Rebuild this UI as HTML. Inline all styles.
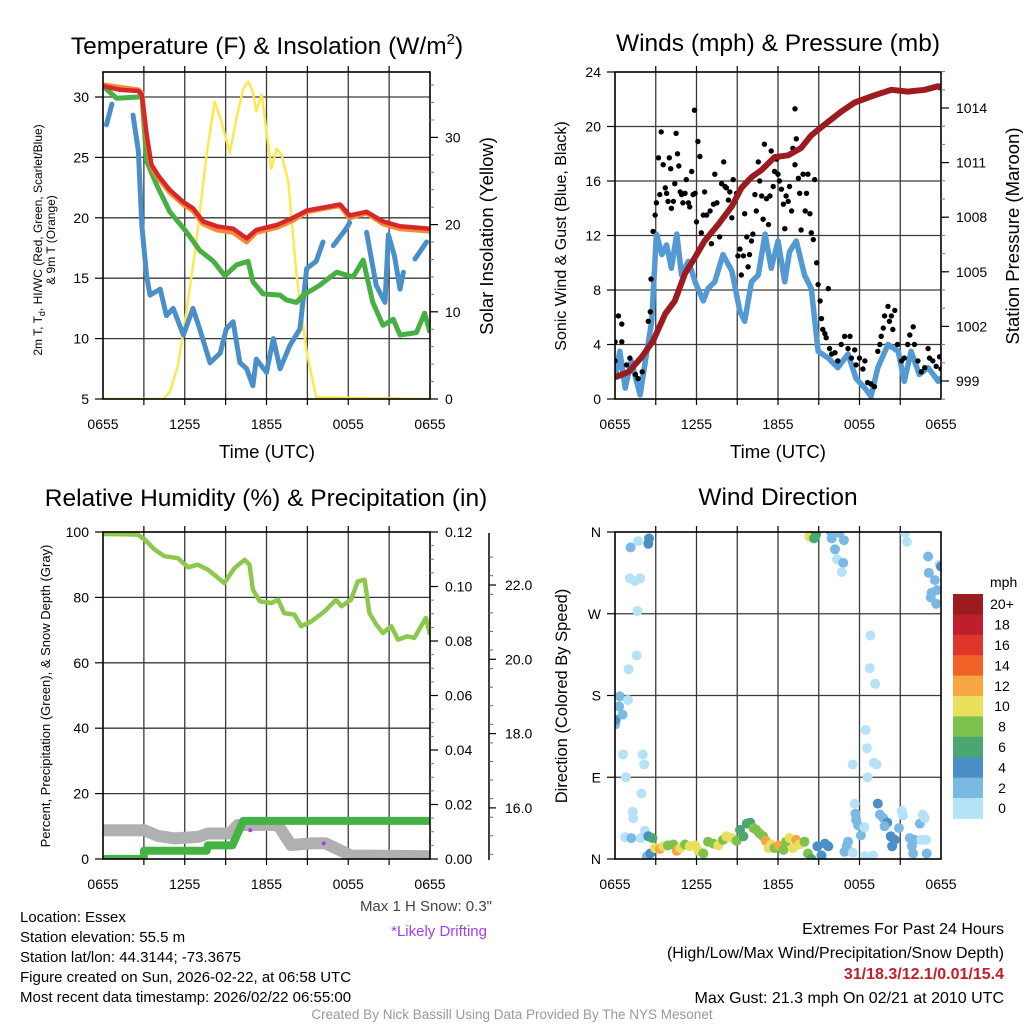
<!DOCTYPE html>
<html><head><meta charset="utf-8"><style>
html,body{margin:0;padding:0;background:#fff;}
svg{display:block;font-family:"Liberation Sans",Arial,sans-serif;}
</style></head><body>
<svg id="chart" width="1024" height="1024" viewBox="0 0 1024 1024" xmlns="http://www.w3.org/2000/svg">
<defs>
<clipPath id="cTL"><rect x="103" y="72" width="327" height="327"/></clipPath>
<clipPath id="cTR"><rect x="615" y="72" width="326" height="327"/></clipPath>
<clipPath id="cBL"><rect x="103" y="532" width="327" height="327"/></clipPath>
<clipPath id="cBR"><rect x="615" y="532" width="326" height="327"/></clipPath>
</defs>
<text x="267" y="54" font-size="24.5" text-anchor="middle">Temperature (F) &amp; Insolation (W/m<tspan font-size="15" dy="-10">2</tspan><tspan dy="10">)</tspan></text>
<text x="778" y="51" font-size="24.5" text-anchor="middle">Winds (mph) &amp; Pressure (mb)</text>
<text x="266" y="506" font-size="24.5" text-anchor="middle">Relative Humidity (%) &amp; Precipitation (in)</text>
<text x="778" y="505" font-size="24.5" text-anchor="middle">Wind Direction</text>

<text x="267" y="458" font-size="18.5" text-anchor="middle">Time (UTC)</text>
<text x="778" y="458" font-size="18.5" text-anchor="middle">Time (UTC)</text>

<text font-size="12" text-anchor="middle" transform="translate(42,240) rotate(-90)">2m T, T<tspan font-size="9" dy="3">d</tspan><tspan dy="-3">, HI/WC (Red, Green, Scarlet/Blue)</tspan></text>
<text font-size="12" text-anchor="middle" transform="translate(55,240) rotate(-90)">&amp; 9m T (Orange)</text>
<text font-size="18.5" text-anchor="middle" transform="translate(493,236) rotate(-90)">Solar Insolation (Yellow)</text>
<text font-size="16" text-anchor="middle" transform="translate(566,236) rotate(-90)">Sonic Wind &amp; Gust (Blue, Black)</text>
<text font-size="18.5" text-anchor="middle" transform="translate(1019,236) rotate(-90)">Station Pressure (Maroon)</text>
<text font-size="13" text-anchor="middle" transform="translate(50,696) rotate(-90)">Percent, Precipitation (Green), &amp; Snow Depth (Gray)</text>
<text font-size="16.5" text-anchor="middle" transform="translate(567,696) rotate(-90)">Direction (Colored By Speed)</text>

<g font-size="15">
<text x="20" y="922">Location: Essex</text>
<text x="20" y="942">Station elevation: 55.5 m</text>
<text x="20" y="962">Station lat/lon: 44.3144; -73.3675</text>
<text x="20" y="982">Figure created on Sun, 2026-02-22, at 06:58 UTC</text>
<text x="20" y="1002">Most recent data timestamp: 2026/02/22 06:55:00</text>
</g>
<text x="492" y="911" font-size="15" fill="#444" text-anchor="end">Max 1 H Snow: 0.3"</text>
<text x="487" y="936" font-size="15" fill="#a040f0" text-anchor="end">*Likely Drifting</text>
<text x="512" y="1019" font-size="13.5" fill="#999" text-anchor="middle">Created By Nick Bassill Using Data Provided By The NYS Mesonet</text>
<g font-size="16" text-anchor="end">
<text x="1004" y="934">Extremes For Past 24 Hours</text>
<text x="1004" y="958">(High/Low/Max Wind/Precipitation/Snow Depth)</text>
<text x="1004" y="979" fill="#c0202a" font-weight="bold">31/18.3/12.1/0.01/15.4</text>
<text x="1004" y="1003">Max Gust: 21.3 mph On 02/21 at 2010 UTC</text>
</g>
</svg>
<script>
// ===== Data =====
const timeLabels = ["0655","1255","1855","0055","0655"];
const timeLabelHours = [0,6,12,18,24];
// Temperature panel
const redH = [0,1.25,2.6,2.85,3.2,3.55,4.05,4.9,5.9,6.6,7.35,8.35,9.55,10.55,11.25,12.75,13.95,14.95,16.4,17.4,18.1,19.35,20.55,21.8,24];
const redT = [30.9,30.6,30.5,30.2,26.9,24.4,23.5,22.3,21.3,20.8,19.7,19.3,19.1,18.3,19.0,19.4,20.0,20.6,20.9,21.1,20.2,20.5,19.7,19.3,19.1];
const orangeT = [31.0,30.8,30.6,30.3,26.7,24.2,23.3,22.1,21.1,20.6,19.5,19.0,18.8,18.0,18.8,19.2,19.8,20.5,20.8,21.0,20.0,20.4,19.5,19.1,18.9];
const greenH = [0,1.0,2.6,2.85,3.2,3.95,4.9,6.15,7.1,8.1,8.95,9.8,10.65,11.0,11.75,13.0,13.45,14.2,14.7,15.9,17.15,18.35,19.1,19.8,20.55,21.3,21.8,23.0,23.6,24];
const greenT = [30.9,29.9,30.0,30.3,24.7,22.7,20.5,18.8,17.3,16.4,15.2,16.1,16.4,14.7,13.7,13.6,13.2,13.0,13.6,14.4,15.5,15.1,16.5,13.0,11.1,11.6,10.3,10.5,12.1,10.5];
const blueH = [0.25,0.65,null,2.2,2.6,2.85,3.2,3.45,4.2,4.65,5.15,5.9,6.6,7.1,7.85,8.6,9.05,9.55,10.05,10.55,11.0,11.25,12.0,12.5,13.0,13.7,14.45,14.95,15.65,16.15,null,16.9,17.85,18.1,null,19.35,20.05,20.7,20.95,21.4,21.8,22.05,null,22.9,23.75];
const blueT = [27.7,29.4,null,28.5,25.5,19.4,15.2,13.6,14.1,11.9,12.5,10.3,12.5,10.8,8.0,8.8,10.8,11.4,8.0,7.5,6.1,8.3,7.2,10.0,7.5,9.4,10.8,15.8,16.4,18.0,null,17.7,19.1,19.6,null,18.8,14.4,13.0,18.6,16.8,14.1,15.5,null,16.6,18.0];
const solarH = [0,4.45,4.9,5.5,6.15,6.85,7.6,8.2,8.7,9.3,9.8,10.3,10.65,11.0,11.25,11.65,12.0,12.35,12.75,13.1,13.6,14.2,14.95,15.65,24];
const solarV = [0,0,0.8,3.8,10.3,18.0,28.0,34.1,31.8,28.2,32.2,35.6,36.4,35.2,33.0,34.9,30.7,26.4,28.7,28.0,24.9,14.2,5.4,0.2,0];
// Wind panel
const presH = [0,1.0,1.95,2.8,3.7,4.4,5.15,5.9,6.6,7.6,8.6,9.3,10.05,10.8,11.75,12.75,13.7,14.45,15.45,16.65,17.65,19.1,20.35,21.55,22.8,23.8,24];
const presV = [999.2,999.5,1000.3,1001.2,1002.7,1003.4,1004.9,1005.8,1006.7,1007.6,1008.6,1009.6,1010.2,1010.6,1011.3,1011.4,1011.8,1012.5,1013.1,1013.8,1014.3,1014.7,1015.0,1014.9,1015.0,1015.2,1015.1];
const windH = [0,0.35,0.75,1.2,1.85,2.35,2.7,3.05,3.45,3.8,4.15,4.55,4.9,5.4,5.9,6.5,6.85,7.35,7.95,8.6,9.2,9.55,10.05,10.55,11.05,11.5,12.0,12.5,12.85,13.35,13.95,14.45,14.95,15.7,16.4,17.15,17.75,18.4,18.85,19.35,20.1,20.85,21.3,21.8,22.4,23.05,23.8,24];
const windV = [1.5,3.5,0.8,2.8,0.3,3.5,5.7,12.1,10.6,11.3,9.6,12.1,9.1,10.1,8.6,7.2,8.1,8.6,10.6,9.4,6.4,5.7,8.6,9.1,12.1,9.6,11.6,8.6,10.8,11.6,9.1,8.1,3.5,3.0,2.3,3.3,1.5,0.8,0.2,2.3,4.0,3.5,1.3,3.5,1.8,2.3,1.3,1.6];
const gustH = [0,0.25,0.5,0.5,0,0.85,1.1,1.5,1.7,2.0,2.45,2.6,2.65,2.8,2.95,3.05,3.2,3.3,3.4,3.55,3.7,3.8,3.9,4.0,4.1,4.15,4.3,4.4,4.5,4.6,4.7,4.8,4.9,5.0,5.15,5.25,5.4,5.5,5.65,5.75,5.85,5.9,6.0,6.1,6.25,6.35,6.5,6.6,6.75,7.0,7.1,7.25,7.35,7.5,7.7,7.85,8.0,8.1,8.2,8.35,8.45,8.6,8.7,8.95,9.05,9.2,9.3,9.45,9.55,9.7,9.8,9.9,10.05,10.15,10.3,10.4,10.55,10.65,10.8,10.9,11.0,11.15,11.3,11.4,11.5,11.65,11.75,11.9,12.0,12.1,12.25,12.4,12.5,12.6,12.75,12.85,13.0,13.1,13.25,13.25,13.35,13.5,13.6,13.7,13.85,14.0,14.1,14.2,14.35,14.45,14.6,14.7,14.85,14.95,15.1,15.2,15.3,15.45,15.55,15.7,15.8,15.95,16.2,16.4,16.65,16.9,17.15,17.3,17.4,17.65,17.75,18.0,18.25,18.4,18.6,18.85,19.1,19.35,19.5,19.6,19.75,19.85,20.1,20.2,20.35,20.45,20.6,20.8,21.1,21.3,21.55,21.7,21.95,22.05,22.3,22.55,22.8,23.05,23.15,23.4,23.65,23.9,24];
const gustV = [4.2,6.1,5.5,4.2,2.8,2.5,3.0,1.8,1.5,2.0,5.7,6.4,8.8,12.3,13.5,14.4,17.7,15.0,19.6,17.2,15.5,15.1,14.5,17.7,16.9,14.0,14.5,15.8,19.5,18.0,17.1,15.2,15.0,14.4,15.1,16.1,14.4,14.1,16.7,15.0,21.2,15.1,13.0,18.9,17.8,12.2,13.5,15.2,13.5,13.8,11.4,14.3,16.5,14.4,11.9,15.8,17.4,15.6,15.5,14.6,15.2,13.3,16.1,15.1,10.5,11.0,9.1,10.5,13.6,11.9,9.7,10.6,11.6,12.1,15.0,13.8,17.4,16.0,14.9,13.2,18.7,14.7,12.8,14.9,18.2,15.6,16.7,17.6,16.5,16.0,15.4,14.3,12.5,14.9,14.5,15.6,13.8,18.4,17.2,21.3,19.1,16.2,15.1,12.4,16.5,13.8,15.1,16.5,13.6,12.2,11.7,16.1,10.0,8.4,7.2,5.9,5.1,4.8,4.5,8.1,3.7,3.3,3.4,2.8,4.0,4.6,3.7,4.6,3.0,3.6,2.5,3.0,2.2,2.8,1.2,1.1,0.9,3.5,4.0,4.6,5.2,6.1,6.8,5.7,6.1,5.1,6.5,4.0,2.8,3.0,4.0,4.7,5.3,4.0,2.8,2.0,2.3,3.7,3.0,2.8,2.4,3.1,2.2];
// RH panel
const rhH = [0,2.55,3.05,3.8,4.5,5.5,6.25,6.95,7.7,8.9,9.65,10.4,10.75,11.0,11.5,12.35,12.85,13.3,14.05,14.55,15.3,16.25,17.1,17.5,18.2,18.7,19.2,19.55,20.05,20.55,21.15,21.65,22.35,22.85,23.7,24];
const rhV = [99.4,99.2,97.7,94.6,92.6,92.0,89.2,90.0,88.5,84.4,89.0,91.5,90.0,82.4,78.8,78.3,79.3,75.2,74.7,71.2,72.7,75.7,79.3,77.3,79.3,84.9,85.4,75.2,71.7,69.1,71.2,67.1,68.1,67.6,73.7,68.6];
const precipH = [0,3.0,3.0,7.6,7.7,9.5,10.3,24];
const precipV = [0,0,0.003,0.003,0.005,0.005,0.014,0.014];
const snowH = [0,3.05,4.0,5.25,7.0,7.7,9.3,9.9,12.85,13.8,15.5,16.3,18.2,24];
const snowV = [15.4,15.4,15.25,15.18,15.22,15.31,15.31,15.54,15.54,15.0,15.05,15.05,14.72,14.7];
const driftH = [10.8,16.2];
const driftV = [15.4,15.05];
// Direction panel
const dirH = [0.0,0.05,0.3,0.55,0.35,0.95,0.6,0.8,1.0,1.6,1.65,1.1,1.45,1.85,1.15,1.7,2.5,2.45,1.95,1.3,1.35,2.05,2.15,0.75,1.2,1.9,2.2,2.45,2.75,2.35,2.6,
2.95,3.3,3.55,3.9,4.3,4.55,4.8,5.15,5.5,5.9,6.15,6.5,6.85,7.25,7.6,7.95,8.2,8.6,8.95,9.2,9.45,9.7,9.95,10.2,10.4,10.65,10.9,11.1,11.3,11.5,11.75,12.05,12.4,12.6,12.85,13.1,13.35,13.6,13.95,14.2,14.45,
14.9,15.2,15.45,15.7,17.05,17.15,16.9,17.5,18.4,19.0,18.9,17.65,17.7,17.75,17.9,18.1,18.35,17.5,18.45,18.55,18.6,19.05,19.25,18.75,19.15,18.8,
19.35,19.5,19.75,20.05,19.85,20.3,20.6,20.4,20.9,21.1,21.2,21.7,21.85,21.95,22.05,22.45,22.65,22.8,22.55,22.9,22.95,
14.3,14.65,14.8,15.9,16.5,16.85,15.95,16.2,16.35,16.8,16.7,21.35,21.5,23.05,23.1,23.55,23.9,24,23.3,23.7,23.25,23.65];
const dirDeg = [148,153,168,159,179,175,115,90,209,224,273,309,306,309,343,350,353,347,72,52,45,115,104,24,23,23,31,25,23,3,6,
12,11,14,15,16,9,12,16,14,15,9,6,19,17,15,21,25,23,20,32,25,39,40,34,32,28,25,20,12,16,12,15,10,19,23,12,21,16,19,6,0,
14,4,17,14,14,19,8,7,3,4,0,61,50,43,37,26,35,104,142,122,90,106,104,210,193,246,
61,49,45,40,36,25,21,14,34,53,48,23,14,6,21,39,49,45,21,21,6,
355,353,357,360,359,351,353,341,330,326,316,359,349,333,315,307,324,322,293,296,288,281];
const dirSpeed = [3,4,3,3,3,1,1,1,1,1,1,1,1,1,3,1,4,4,1,1,1,1,1,1,3,1,1,4,6,3,4,
10,12,10,8,8,12,10,8,10,10,10,8,8,8,10,8,10,10,8,6,6,6,6,8,8,8,8,12,10,10,8,12,8,8,10,10,12,10,8,8,6,
4,4,4,4,2,2,2,1,1,1,1,1,2,2,2,2,1,1,1,1,1,1,1,1,1,1,
4,2,2,4,3,4,4,4,3,1,1,2,2,2,2,2,1,1,1,1,2,
10,6,7,2,2,2,2,2,1,2,1,1,1,3,3,3,1,4,3,3,3,3];
const speedColors = ["#b5e2f7","#7bb9e5","#4a8fc6","#4aa76f","#7dc24c","#e8e05c","#f7a644","#f16229","#e0352b","#bf1e2d","#9b1b1e"];
const speedLabels = ["0","2","4","6","8","10","12","14","16","18","20+"];
const tempTicks = [5,10,15,20,25,30];
const solarTicks = [0,10,20,30];
const windTicks = [0,4,8,12,16,20,24];
const presTicks = [999,1002,1005,1008,1011,1014];
const rhTicks = [0,20,40,60,80,100];
const precipTicks = [0,0.02,0.04,0.06,0.08,0.10,0.12];
const snowTicks = [16,18,20,22];
const dirTicks = [0,90,180,270,360];
const dirLabels = ["N","E","S","W","N"];

// ===== Scales =====
const xL = h => 103 + h*327/24;
const xR = h => 615 + h*326/24;
const yTemp = v => 399 - (v-5)*12.08;
const ySolar = v => 399 - v*8.72;
const yWind = v => 399 - v*13.625;
const yPres = p => 381 - (p-999)*18.2;
const yRH = v => 859 - v*3.27;
const yPrecip = v => 859 - v/0.12*327;
const ySnow = v => 585 + (22-v)*37.15;
const yDir = d => 859 - d*327/360;

const svg = document.getElementById('chart');
const NS = 'http://www.w3.org/2000/svg';
function mk(tag, attrs, parent, name, inter) {
  const el = document.createElementNS(NS, tag);
  for (const k in attrs) el.setAttribute(k, attrs[k]);
  
  
  (parent || svg).appendChild(el);
  return el;
}
function pathFrom(hs, vs, xf, yf) {
  let d = '', pen = false;
  for (let i = 0; i < hs.length; i++) {
    if (hs[i] === null || vs[i] === null) { pen = false; continue; }
    d += (pen ? 'L' : 'M') + xf(hs[i]).toFixed(1) + ',' + yf(vs[i]).toFixed(1);
    pen = true;
  }
  return d;
}

function panel(x0, y0, w, h, key, vgridHours, xf, hgridYs) {
  const g = mk('g', {}, svg, key + '-panel', false);
  vgridHours.forEach(hh => {
    const x = xf(hh);
    mk('line', {x1:x, y1:y0, x2:x, y2:y0+h, stroke:'#3a3a3a', 'stroke-width':1.3}, g, key + '-vgrid', false);
    mk('line', {x1:x, y1:y0-6, x2:x, y2:y0, stroke:'#000', 'stroke-width':1.2}, g, key + '-top-tick', false);
    mk('line', {x1:x, y1:y0+h, x2:x, y2:y0+h+6, stroke:'#000', 'stroke-width':1.2}, g, key + '-bottom-tick', false);
  });
  hgridYs.forEach(y => {
    mk('line', {x1:x0, y1:y, x2:x0+w, y2:y, stroke:'#3a3a3a', 'stroke-width':1.3}, g, key + '-hgrid', false);
  });
  return g;
}
function frame(x0, y0, w, h, key) {
  mk('rect', {x:x0, y:y0, width:w, height:h, fill:'none', stroke:'#000', 'stroke-width':1.6}, svg, key + '-frame', false);
}
function xLabels(xf, y) {
  timeLabelHours.forEach((hh, i) => {
    const t = mk('text', {x:xf(hh), y:y, 'font-size':14, 'text-anchor':'middle'}, svg, 'x-tick-label', false);
    t.textContent = timeLabels[i];
  });
}
function yLeft(ticks, yf, x0, labels, fmt) {
  ticks.forEach((v, i) => {
    const y = yf(v);
    mk('line', {x1:x0-8, y1:y, x2:x0, y2:y, stroke:'#000', 'stroke-width':1.2}, svg, 'y-tick', false);
    const t = mk('text', {x:x0-14, y:y+5, 'font-size':14, 'text-anchor':'end'}, svg, 'y-tick-label', false);
    t.textContent = labels ? labels[i] : (fmt ? fmt(v) : v);
  });
}
function yRight(ticks, yf, x1, fmt, minorStep, lo, hi) {
  if (minorStep) {
    for (let v = lo; v <= hi + 1e-9; v += minorStep) {
      const y = yf(v);
      mk('line', {x1:x1, y1:y, x2:x1+4, y2:y, stroke:'#777', 'stroke-width':1}, svg, 'y-minor-tick', false);
    }
  }
  ticks.forEach(v => {
    const y = yf(v);
    mk('line', {x1:x1, y1:y, x2:x1+8, y2:y, stroke:'#000', 'stroke-width':1.2}, svg, 'y-right-tick', false);
    const t = mk('text', {x:x1+15, y:y+5, 'font-size':14, 'text-anchor':'start'}, svg, 'y-right-tick-label', false);
    t.textContent = fmt ? fmt(v) : v;
  });
}
const gridHours = [3,6,9,12,15,18,21];

// ===== Top-left: temperature =====
panel(103,72,327,327,'temp', gridHours, xL, tempTicks.slice(1).map(yTemp));
const gTL = mk('g', {'clip-path':'url(#cTL)'}, svg, 'temp-series', false);
mk('path', {d:pathFrom(solarH, solarV, xL, ySolar), fill:'none', stroke:'#fde84e', 'stroke-width':2.5, 'stroke-linejoin':'round'}, gTL, 'solar-insolation-line', false);
mk('path', {d:pathFrom(blueH, blueT, xL, yTemp), fill:'none', stroke:'#4a8fc9', 'stroke-width':5, 'stroke-linejoin':'round', 'stroke-linecap':'round'}, gTL, 'dewpoint-line', false);
mk('path', {d:pathFrom(greenH, greenT, xL, yTemp), fill:'none', stroke:'#47b043', 'stroke-width':5, 'stroke-linejoin':'round'}, gTL, 'wind-chill-line', false);
mk('path', {d:pathFrom(redH, orangeT, xL, yTemp), fill:'none', stroke:'#f58a33', 'stroke-width':5, 'stroke-linejoin':'round'}, gTL, '9m-temp-line', false);
mk('path', {d:pathFrom(redH, redT, xL, yTemp), fill:'none', stroke:'#d6272a', 'stroke-width':4.5, 'stroke-linejoin':'round'}, gTL, '2m-temp-line', false);
frame(103,72,327,327,'temp');
xLabels(xL, 429);
yLeft(tempTicks, yTemp, 103);
yRight(solarTicks, ySolar, 430, null, 2, 0, 36);

// ===== Top-right: winds =====
panel(615,72,326,327,'wind', gridHours, xR, windTicks.slice(1,-1).map(yWind));
const gTR = mk('g', {'clip-path':'url(#cTR)'}, svg, 'wind-series', false);
mk('path', {d:pathFrom(windH, windV, xR, yWind), fill:'none', stroke:'#5399d3', 'stroke-width':5.5, 'stroke-linejoin':'round'}, gTR, 'sonic-wind-line', false);
gustH.forEach((hh, i) => {
  mk('circle', {cx:xR(hh).toFixed(1), cy:yWind(gustV[i]).toFixed(1), r:2.7, fill:'#000'}, gTR, 'gust-point', false);
});
mk('path', {d:pathFrom(presH, presV, xR, yPres), fill:'none', stroke:'#9b1b1e', 'stroke-width':6, 'stroke-linejoin':'round', 'stroke-linecap':'round'}, gTR, 'pressure-line', false);
frame(615,72,326,327,'wind');
xLabels(xR, 429);
yLeft(windTicks, yWind, 615);
yRight(presTicks, yPres, 941, null, 1, 998, 1016);

// ===== Bottom-left: RH =====
panel(103,532,327,327,'rh', gridHours, xL, rhTicks.slice(1,-1).map(yRH));
const gBL = mk('g', {'clip-path':'url(#cBL)'}, svg, 'rh-series', false);
mk('path', {d:pathFrom(snowH, snowV, xL, ySnow), fill:'none', stroke:'#b0b0b0', 'stroke-width':12, 'stroke-linejoin':'round', 'stroke-linecap':'round'}, gBL, 'snow-depth-line', false);
mk('path', {d:pathFrom(precipH, precipV, xL, yPrecip), fill:'none', stroke:'#45b245', 'stroke-width':8, 'stroke-linejoin':'round', 'stroke-linecap':'round'}, gBL, 'precipitation-line', false);
driftH.forEach((hh, i) => {
  mk('circle', {cx:xL(hh).toFixed(1), cy:ySnow(driftV[i]).toFixed(1), r:2, fill:'#a040f0'}, gBL, 'drifting-marker', false);
});
mk('path', {d:pathFrom(rhH, rhV, xL, yRH), fill:'none', stroke:'#8cc84b', 'stroke-width':4.5, 'stroke-linejoin':'round'}, gBL, 'relative-humidity-line', false);
frame(103,532,327,327,'rh');
xLabels(xL, 889);
yLeft(rhTicks, yRH, 103);
yRight(precipTicks, yPrecip, 430, v => v.toFixed(2), 0.005, 0, 0.12);
mk('line', {x1:489, y1:533, x2:489, y2:860, stroke:'#000', 'stroke-width':1.5}, svg, 'snow-depth-axis', false);
for (let v = 14.75; v <= 23; v += 0.5) {
  const y = ySnow(v);
  if (y < 533 || y > 860) continue;
  mk('line', {x1:489, y1:y, x2:493, y2:y, stroke:'#666', 'stroke-width':1}, svg, 'snow-minor-tick', false);
}
snowTicks.forEach(v => {
  const y = ySnow(v);
  mk('line', {x1:489, y1:y, x2:496, y2:y, stroke:'#000', 'stroke-width':1.2}, svg, 'snow-tick', false);
  const t = mk('text', {x:505, y:y+5, 'font-size':14}, svg, 'snow-tick-label', false);
  t.textContent = v.toFixed(1);
});

// ===== Bottom-right: direction =====
panel(615,532,326,327,'dir', gridHours, xR, dirTicks.slice(1,-1).map(yDir));
const gBR = mk('g', {'clip-path':'url(#cBR)'}, svg, 'direction-series', false);
dirH.forEach((hh, i) => {
  const bin = Math.min(10, Math.floor(dirSpeed[i]/2));
  mk('circle', {cx:xR(hh).toFixed(1), cy:yDir(dirDeg[i]).toFixed(1), r:5, fill:speedColors[bin]}, gBR, 'direction-point', false);
});
frame(615,532,326,327,'dir');
xLabels(xR, 889);
yLeft(dirTicks, yDir, 615, dirLabels);

// Colorbar
const cb = mk('g', {}, svg, 'speed-colorbar', false);
const cbTop = 594, cbH = 20.4;
const cbT = mk('text', {x:990, y:587, 'font-size':14}, cb, 'colorbar-unit', false);
cbT.textContent = 'mph';
for (let i = 0; i < speedColors.length; i++) {
  const idx = speedColors.length - 1 - i;
  const y = cbTop + i*cbH;
  mk('rect', {x:953, y:y, width:30, height:cbH+0.5, fill:speedColors[idx]}, cb, 'colorbar-box', false);
  const t = mk('text', {x:1002, y:y+cbH/2+5, 'font-size':14, 'text-anchor':'middle'}, cb, 'colorbar-label', false);
  t.textContent = speedLabels[idx];
}
</script>
</body></html>
